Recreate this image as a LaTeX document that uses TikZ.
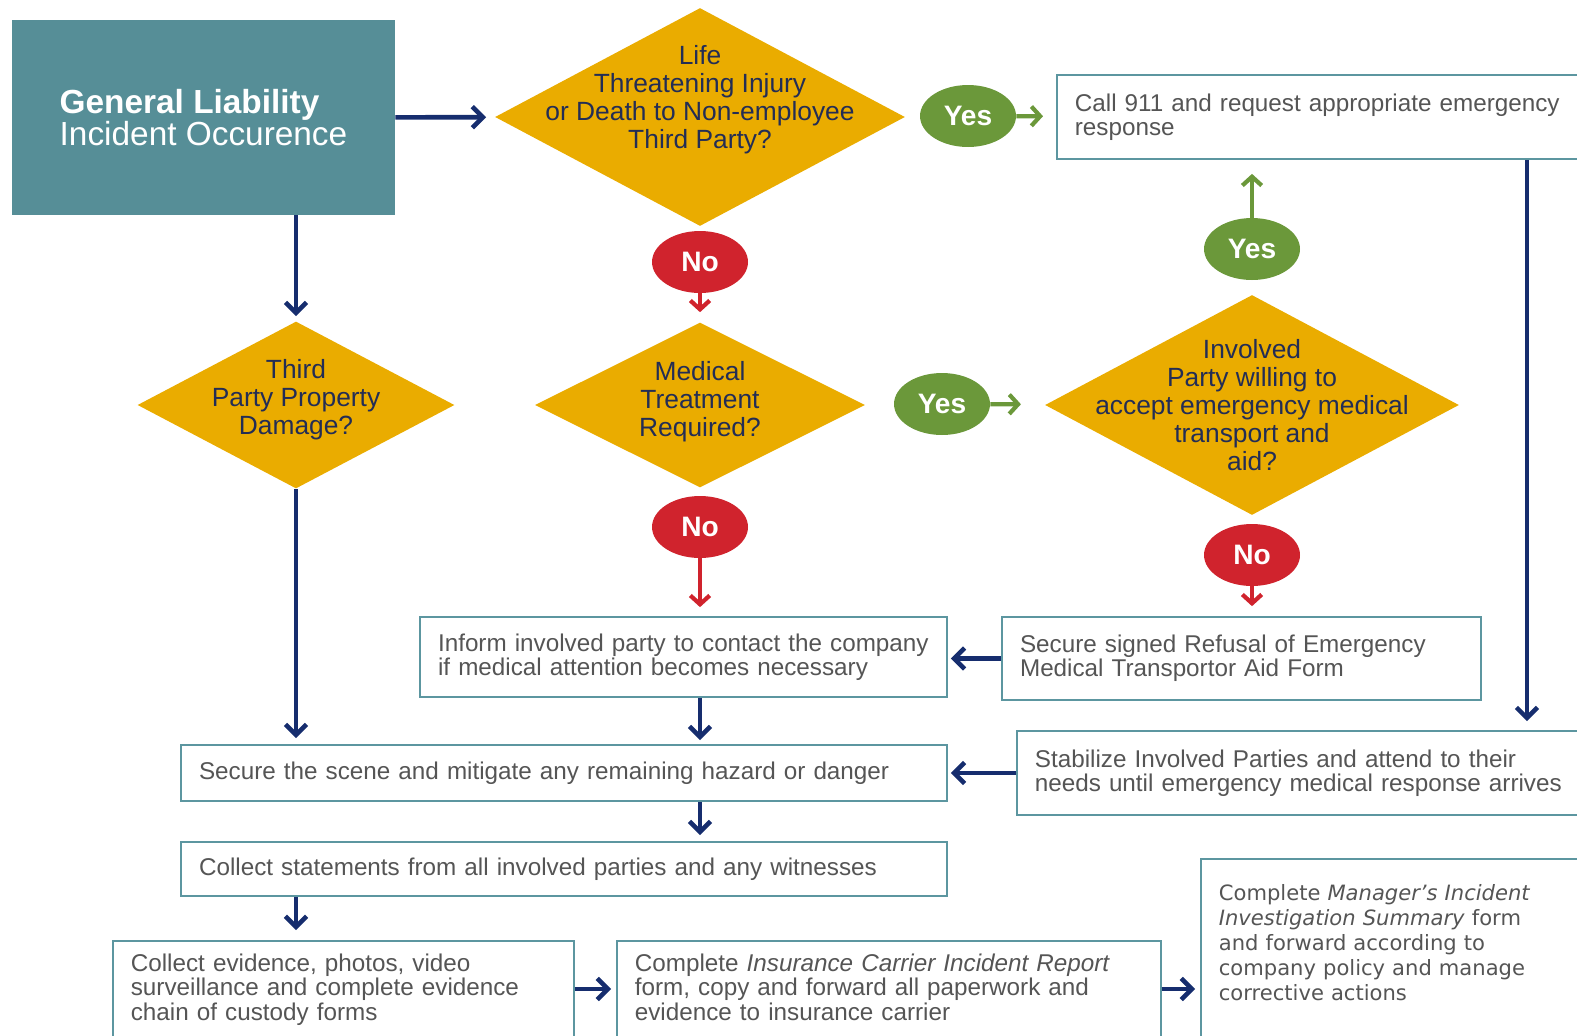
\documentclass[tikz,border=0pt]{standalone}
\usepackage{fontspec}
\setmainfont{Liberation Sans}
\newfontfamily\mgrfont{DejaVu Sans}
\usetikzlibrary{arrows.meta, shapes.geometric, positioning}
\definecolor{gteal}{RGB}{86, 142, 151}
\definecolor{gboxline}{RGB}{92, 150, 160}
\definecolor{ggold}{RGB}{234, 172, 0}
\definecolor{gnavy}{RGB}{22, 45, 110}
\definecolor{gtext}{RGB}{85, 85, 85}
\definecolor{gdtext}{RGB}{35, 45, 85}
\definecolor{gyes}{RGB}{107, 152, 58}
\definecolor{gno}{RGB}{208, 35, 45}

\begin{document}
\begin{tikzpicture}[
  x=0.02cm, y=-0.02cm,
  stepbox/.style={rectangle, draw=gboxline, line width=1pt, fill=white,
              text width=#1, align=left, inner xsep=0.36cm, inner ysep=0.1cm,
              font=\fontsize{13.8}{13.7}\selectfont, text=gtext},
  lowbox/.style={stepbox=#1, anchor=north west, text height=0.36cm,
              text depth=3cm, inner ysep=0.26cm},
  decision/.style={diamond, fill=ggold, inner sep=0pt},
  dtext/.style={align=center, font=\fontsize{15}{15.9}\selectfont, text=gdtext},
  answer/.style={ellipse, fill=#1, inner sep=0pt, minimum width=1.92cm,
              minimum height=1.24cm, font=\fontsize{16}{16}\selectfont\bfseries, text=white},
  arr/.style={-{Straight Barb[length=6pt, width=12pt]}, line width=2.6pt, gnavy},
  ansarr/.style={-{Straight Barb[length=5pt, width=11pt]}, line width=2.4pt, #1}
]
\useasboundingbox (0,0) rectangle (1577,1035);
\clip (0,0) rectangle (1577,1035);

% Top row
\node[rectangle, fill=gteal, minimum width=7.66cm, minimum height=3.9cm, align=left,
      text=white, font=\fontsize{19}{18.2}\selectfont] (start) at (203.5,117.5)
      {\textbf{General Liability}\\Incident Occurence};
\node[decision, minimum width=8.2cm, minimum height=4.36cm,
      label={[dtext, yshift=0.34cm]center:Life\\Threatening Injury\\or Death to Non-employee\\Third Party?}]
      (life) at (700,117) {};
\node[answer=gyes] (yes1) at (968,116) {Yes};
\node[stepbox=10.2cm, minimum height=1.68cm, anchor=west] (call) at (1056,117)
      {Call 911 and request appropriate emergency\\response};
\coordinate (callout) at ([xshift=9.42cm]call.south west);

% Second row
\node[answer=gno] (no1) at (700,262) {No};
\node[answer=gyes] (yes3) at (1252,249) {Yes};
\node[decision, minimum width=6.34cm, minimum height=3.34cm,
      label={[dtext, yshift=0.1cm]center:Third\\Party Property\\Damage?}]
      (third) at (296,405) {};
\node[decision, minimum width=6.6cm, minimum height=3.3cm,
      label={[dtext, yshift=0.06cm]center:Medical\\Treatment\\Required?}]
      (medical) at (700,405) {};
\node[answer=gyes] (yes2) at (942,404) {Yes};
\node[decision, minimum width=8.28cm, minimum height=4.4cm,
      label={[dtext]center:Involved\\Party willing to\\accept emergency medical\\transport and\\aid?}]
      (involved) at (1252,405) {};
\node[answer=gno] (no2) at (700,527) {No};
\node[answer=gno] (no3) at (1252,555) {No};

% Step boxes
\node[stepbox=9.82cm, minimum height=1.6cm] (inform) at (683.5,657)
      {Inform involved party to contact the company\\if medical attention becomes necessary};
\node[stepbox=8.86cm, minimum height=1.66cm] (refusal) at (1241.5,658.5)
      {Secure signed Refusal of Emergency\\Medical Transportor Aid Form};
\node[stepbox=14.6cm, minimum height=1.12cm] (scene) at (564,773)
      {Secure the scene and mitigate any remaining hazard or danger};
\node[stepbox=10.96cm, minimum height=1.68cm, anchor=west] (stabilize) at (1016,773)
      {Stabilize Involved Parties and attend to their\\needs until emergency medical response arrives};
\node[stepbox=14.6cm, minimum height=1.08cm] (statements) at (564,869)
      {Collect statements from all involved parties and any witnesses};

% Bottom row
\node[lowbox=8.5cm] (evidence) at (112,940)
      {Collect evidence, photos, video\\surveillance and complete evidence\\chain of custody forms};
\node[lowbox=10.16cm] (insurance) at (616,940)
      {Complete \textit{Insurance Carrier Incident Report}\\form, copy and forward all paperwork and\\evidence to insurance carrier};
\node[lowbox=7.3cm, inner ysep=0.48cm, font=\mgrfont\fontsize{12}{14.2}\selectfont] (manager) at (1200,858)
      {Complete \textit{Manager’s Incident}\\\textit{Investigation Summary} form\\and forward according to\\company policy and manage\\corrective actions};
\coordinate (evrow) at ([yshift=-0.98cm]evidence.north east);
\coordinate (insrow) at ([yshift=-0.98cm]insurance.north east);

% Answer arrows
\draw[ansarr=gyes, shorten >=0.26cm] (yes1) -- (call);
\draw[ansarr=gno, shorten >=0.2cm] (no1) -- (medical);
\draw[ansarr=gyes, shorten >=0.5cm] (yes2) -- (involved);
\draw[ansarr=gyes, shorten >=0.28cm] (yes3) -- (yes3 |- call.south);
\draw[ansarr=gno, shorten >=0.18cm] (no2) -- (no2 |- inform.north);
\draw[ansarr=gno, shorten >=0.2cm] (no3) -- (no3 |- refusal.north);

% Main flow
\draw[arr, shorten >=0.18cm] (start) -- (life);
\draw[arr, shorten >=0.1cm] (third.north |- start.south) -- (third.north);
\draw[arr, shorten >=0.12cm] (third) -- (third |- scene.north);
\draw[arr, shorten >=0.18cm] (callout) -- (callout |- stabilize.north);
\draw[arr, shorten >=0.06cm] (refusal.west) -- (refusal.west -| inform.east);
\draw[arr, shorten >=0.08cm] (medical.south |- inform.south) -- (medical.south |- scene.north);
\draw[arr, shorten >=0.06cm] (stabilize.west) -- (stabilize.west -| scene.east);
\draw[arr, shorten >=0.12cm] (medical.south |- scene.south) -- (medical.south |- statements.north);
\draw[arr, shorten >=0.2cm] (third.south |- statements.south) -- (third.south |- evidence.north);
\draw[arr, shorten >=0.1cm] (evrow) -- (evrow -| insurance.west);
\draw[arr, shorten >=0.1cm] (insrow) -- (insrow -| manager.west);
\end{tikzpicture}
\end{document}
